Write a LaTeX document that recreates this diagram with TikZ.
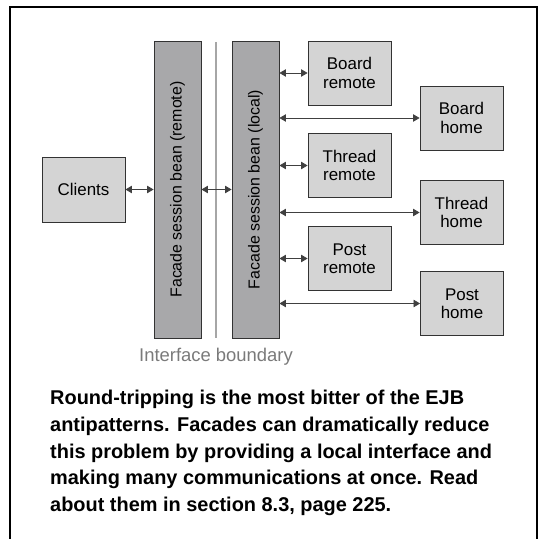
\documentclass[tikz,border=0pt]{standalone}
\usepackage{fontspec}
\setmainfont{Liberation Sans}
\usepackage{tikz}
\usetikzlibrary{arrows.meta, positioning, calc}
\definecolor{boxgray}{HTML}{D4D4D4}
\definecolor{bargray}{HTML}{A8A8AA}
\definecolor{edgegray}{HTML}{333333}
\definecolor{linegray}{HTML}{A6A6A6}
\definecolor{labelgray}{HTML}{7A7A7A}
\tikzset{
  ejb box/.style={
    rectangle, draw=edgegray, fill=boxgray, line width=0.9bp,
    minimum width=83bp, minimum height=64bp,
    align=center, font=\fontsize{17}{18.5}\selectfont,
    inner sep=0pt
  },
  ejb bar/.style={
    rectangle, draw=edgegray, fill=bargray, line width=0.9bp,
    minimum width=297bp, minimum height=47bp,
    rotate=90, font=\fontsize{16}{18}\selectfont,
    inner sep=0pt
  },
  ejb arrow/.style={
    {Triangle[length=6.5bp,width=7.5bp]}-{Triangle[length=6.5bp,width=7.5bp]},
    line width=0.8bp, draw=black!75
  },
  ejb boundary/.style={
    draw=linegray, line width=1.4bp
  }
}

\begin{document}
\begin{tikzpicture}[x=1bp, y=-1bp]
  \useasboundingbox (0,0) rectangle (539,539);
  % frame, open at the bottom
  \draw [line width=1.7bp] (10,539) -- (10,7) -- (537,7) -- (537,539);

  \node (clients) [ejb box, minimum height=65bp] at (83.5,189.5) {Clients};
  \node (remote) [ejb bar] at (177.5,189.5) {Facade session bean (remote)};
  \node (local)  [ejb bar] at (255.5,189.5) {Facade session bean (local)};

  \node (bremote) [ejb box] at (349.5,73)    {Board\\remote};
  \node (bhome)   [ejb box] at (461.5,118)   {Board\\home};
  \node (tremote) [ejb box] at (349.5,165.5) {Thread\\remote};
  \node (thome)   [ejb box] at (461.5,212.5) {Thread\\home};
  \node (premote) [ejb box] at (349.5,258.5) {Post\\remote};
  \node (phome)   [ejb box] at (462,303.5)   {Post\\home};

  % interface boundary
  \coordinate (btop) at (216,42);
  \coordinate (bbot) at (216,338);
  \draw [ejb boundary] (btop) -- (bbot);
  \node (blabel) [text=labelgray, font=\fontsize{18.5}{20}\selectfont]
    at (216,357) {Interface boundary};

  \draw [ejb arrow] (clients.east) -- (remote.north);
  \draw [ejb arrow] (remote.south) -- (local.north);
  \foreach \n in {bremote, bhome, tremote, thome, premote, phome}
    \draw [ejb arrow] (\n.west -| local.south) -- (\n.west);

  \node (caption) [anchor=north west, align=left, inner sep=0pt,
    font=\fontsize{20}{26.8}\selectfont\bfseries] at (50,390)
    {Round-tripping is the most bitter of the EJB\\
     antipatterns. Facades can dramatically reduce\\
     this problem by providing a local interface and\\
     making many communications at once. Read\\
     about them in section 8.3, page 225.};
\end{tikzpicture}
\end{document}
